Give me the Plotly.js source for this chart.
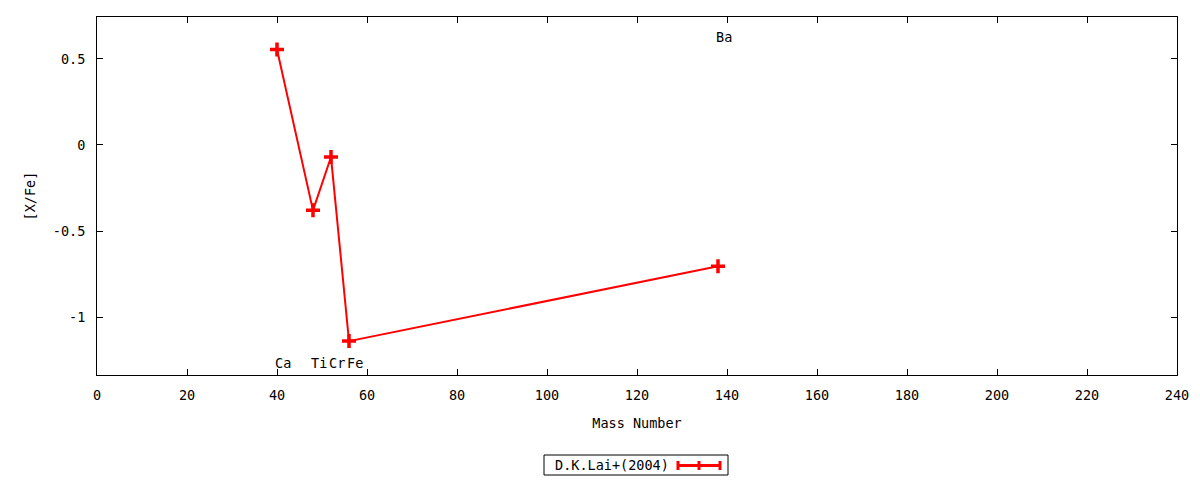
<!DOCTYPE html>
<html>
<head>
<meta charset="utf-8">
<script src="https://cdn.plot.ly/plotly-3.0.1.min.js"></script>
<style>html,body{margin:0;padding:0;background:#fff;}#chart{width:1200px;height:480px;}</style>
</head>
<body>
<div id="chart"></div>
<script>
const elements = ["Ca", "Ti", "Cr", "Fe", "Ba"];
const massNumber = [40, 48, 52, 56, 138];
const xFe = [0.555, -0.38, -0.07, -1.14, -0.705];
const labelY = [-1.27, -1.27, -1.27, -1.27, 0.625];
const seriesName = "D.K.Lai+(2004)";
const xTicks = [0, 20, 40, 60, 80, 100, 120, 140, 160, 180, 200, 220, 240];
const yTicks = [-1, -0.5, 0, 0.5];

const FONT = {family: "DejaVu Sans Mono, monospace", size: 13.5, color: "#000"};

const trace = {
  x: massNumber, y: xFe, type: "scatter", mode: "lines+markers", name: seriesName,
  line: {color: "#ff0000", width: 2},
  marker: {symbol: "cross-thin", size: 10, color: "#ff0000", line: {color: "#ff0000", width: 3.5}},
  showlegend: false, hoverinfo: "skip"
};

const px = v => (v - 97) / 1080;
const py = v => (375 - v) / 358;

const annotations = elements.map((el, i) => ({
  x: massNumber[i], y: labelY[i], xref: "x", yref: "y", text: el,
  showarrow: false, xanchor: "left", yanchor: "middle", xshift: -4, font: FONT
}));
// custom gnuplot-style legend
annotations.push({
  x: px(553), y: py(465), xref: "paper", yref: "paper", xanchor: "left", yanchor: "middle",
  text: seriesName, showarrow: false, font: FONT
});

const shapes = [
  {type: "rect", xref: "paper", yref: "paper", x0: px(544), x1: px(728), y0: py(475), y1: py(455), line: {color: "#000", width: 1}, fillcolor: "rgba(0,0,0,0)"},
  {type: "line", xref: "paper", yref: "paper", x0: px(677), x1: px(721), y0: py(465.5), y1: py(465.5), line: {color: "#ff0000", width: 3}}
];
[678, 699, 720].forEach(cx => {
  shapes.push({type: "line", xref: "paper", yref: "paper", x0: px(cx), x1: px(cx), y0: py(461), y1: py(470), line: {color: "#ff0000", width: 3}});
});

const layout = {
  width: 1200, height: 480,
  margin: {l: 97, r: 23, t: 17, b: 105},
  paper_bgcolor: "#fff", plot_bgcolor: "#fff",
  font: FONT,
  showlegend: false,
  xaxis: {
    range: [0, 240], tickvals: xTicks, ticktext: xTicks.map(String),
    ticks: "inside", ticklen: 6, tickcolor: "#000", tickwidth: 1,
    showline: true, linecolor: "#000", linewidth: 1, mirror: "ticks",
    showgrid: false, zeroline: false, ticklabelstandoff: 8,
    title: {text: "Mass Number", font: FONT, standoff: 16}
  },
  yaxis: {
    range: [-1.337, 0.744], tickvals: yTicks, ticktext: yTicks.map(String),
    ticks: "inside", ticklen: 6, tickcolor: "#000", tickwidth: 1,
    showline: true, linecolor: "#000", linewidth: 1, mirror: "ticks",
    showgrid: false, zeroline: false, ticklabelstandoff: 8,
    title: {text: "[X/Fe]", font: FONT, standoff: 14}
  },
  annotations: annotations,
  shapes: shapes
};

Plotly.newPlot("chart", [trace], layout, {staticPlot: true, displayModeBar: false});
</script>
</body>
</html>
